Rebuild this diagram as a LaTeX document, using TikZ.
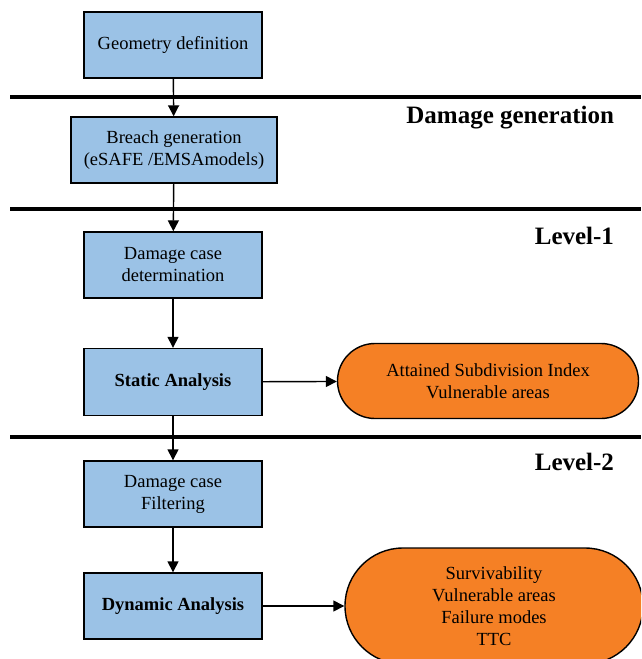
\documentclass[tikz,border=0pt]{standalone}
\usepackage{fontspec}
\setmainfont{Liberation Serif}
\usepackage{tikz}
\usetikzlibrary{arrows.meta}
\usetikzlibrary{shapes.misc}

\definecolor{boxblue}{RGB}{155,194,230}
\definecolor{resorange}{RGB}{245,128,37}

\begin{document}
\begin{tikzpicture}[
		x=1pt,
		y=-1pt,
		-{Triangle[length=11pt,width=11pt]},
		line width=1.4pt
	]
		\tikzstyle{step box}=[
			rectangle,
			draw,
			fill=boxblue,
			font=\fontsize{18.5}{22}\selectfont,
			align=center,
			minimum width=178pt,
			minimum height=66pt,
			inner sep=2pt
		]
		\tikzstyle{result}=[
			rounded rectangle,
			draw,
			fill=resorange,
			font=\fontsize{18.5}{22}\selectfont,
			align=center,
			inner sep=2pt
		]
		\tikzstyle{stage}=[
			anchor=east,
			font=\bfseries\fontsize{25}{28}\selectfont
		]

		\clip (0,0) rectangle (641,659);
		\useasboundingbox (0,0) rectangle (641,659);

		% separators
		\draw[-, line width=3.2pt] (10,97) -- (641,97);
		\draw[-, line width=3.2pt] (10,209) -- (641,209);
		\draw[-, line width=3.2pt] (10,437) -- (641,437);

		\node[stage] (dmggen) at (618,118) {Damage generation};
		\node[stage] (lvl1) at (618,236) {Level-1};
		\node[stage] (lvl2) at (618,462) {Level-2};

		\node[step box] (geom) at (173,45) {Geometry definition};
		\node[step box, minimum width=206pt] (breach) at (174,150) {Breach generation\\(eSAFE /EMSAmodels)};
		\node[step box] (dcdet) at (173,265) {Damage case\\determination};
		\node[step box, minimum height=67pt] (static) at (173,382) {\textbf{Static Analysis}};
		\node[step box] (dcfilt) at (173,494) {Damage case\\Filtering};
		\node[step box] (dynamic) at (173,606) {\textbf{Dynamic Analysis}};

		\node[result, minimum width=305pt, minimum height=75pt] (res1) at (488,381) {Attained Subdivision Index\\Vulnerable areas};
		\node[result, minimum width=302pt, minimum height=116pt] (res2) at (494,606) {Survivability\\Vulnerable areas\\Failure modes\\TTC};

		\draw (geom) -- (breach);
		\draw (breach) -- (dcdet);
		\draw (dcdet) -- (static);
		\draw (static) -- (dcfilt);
		\draw (dcfilt) -- (dynamic);
		\draw (static) -- (res1);
		\draw (dynamic) -- (res2);
\end{tikzpicture}
\end{document}
